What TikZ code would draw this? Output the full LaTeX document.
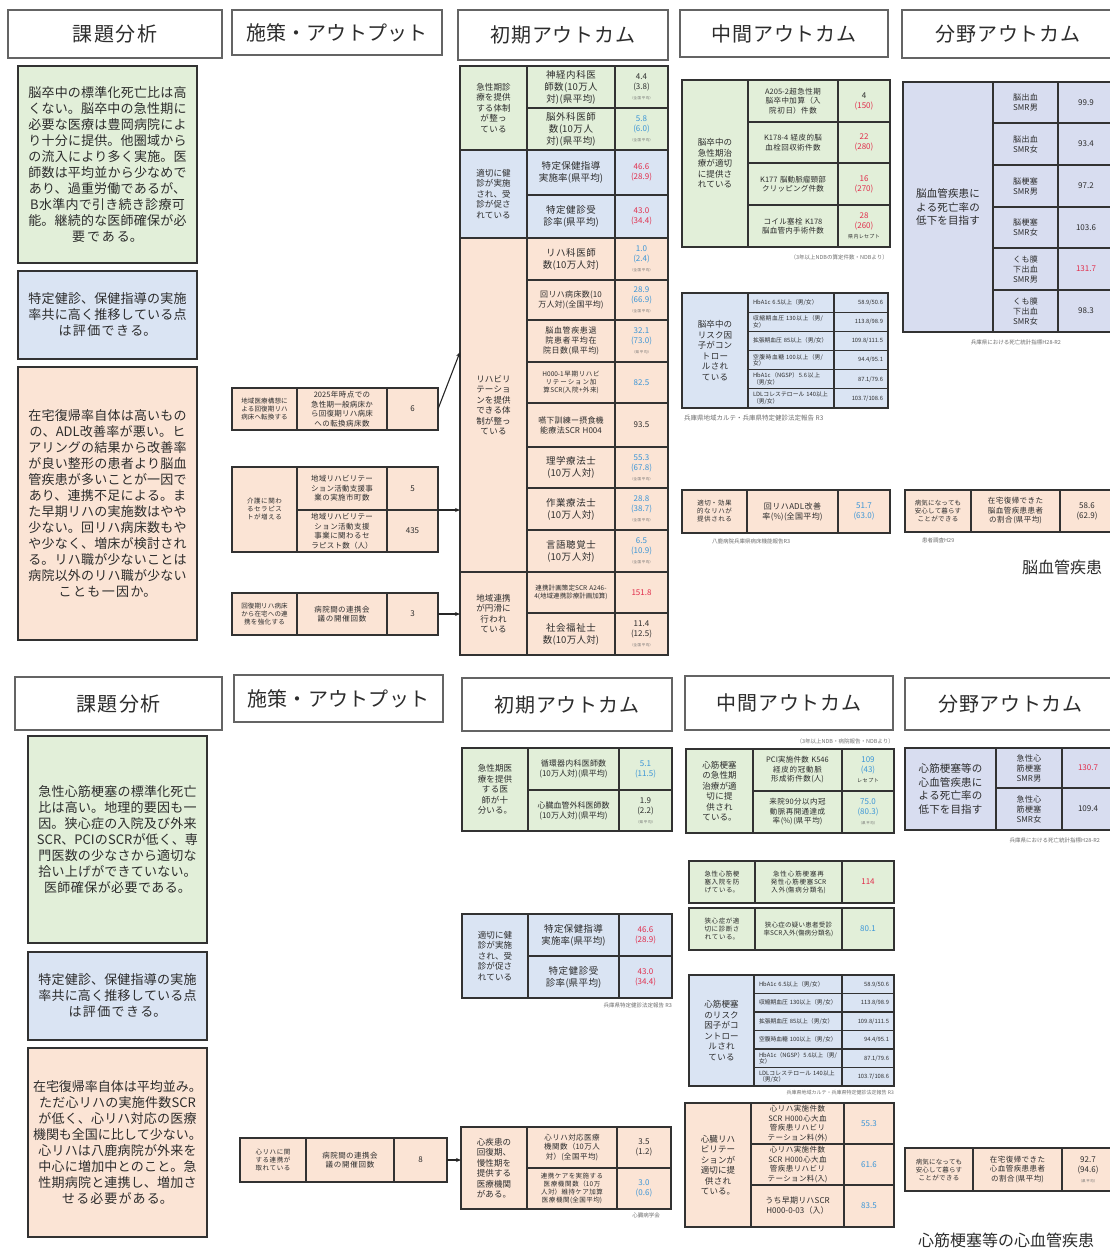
\documentclass[tikz,border=0pt]{standalone}
\usepackage{fontspec}
\setmainfont{Noto Sans CJK JP}
\usetikzlibrary{arrows.meta}
\XeTeXlinebreaklocale "ja"
\XeTeXlinebreakskip=0pt plus 1pt
\definecolor{txt}{RGB}{45,45,45}
\definecolor{edge}{RGB}{50,50,50}
\definecolor{hedge}{RGB}{100,100,100}
\definecolor{gfill}{RGB}{226,239,217}
\definecolor{bfill}{RGB}{218,228,243}
\definecolor{pfill}{RGB}{216,221,240}
\definecolor{ofill}{RGB}{251,228,213}
\definecolor{vred}{RGB}{225,45,75}
\definecolor{vblue}{RGB}{60,150,215}
\definecolor{srcgray}{RGB}{110,110,110}
\newcommand{\mkcell}[7]{%
  \pgfmathsetmacro{\cbw}{#4-#2}%
  \pgfmathsetmacro{\cbh}{#5-#3}%
  \pgfmathsetmacro{\cbx}{(#2+#4)/2}%
  \pgfmathsetmacro{\cby}{(#3+#5)/2}%
  \pgfmathsetmacro{\cbt}{#4-#2-10}%
  \node[cell, minimum width=\cbw pt, minimum height=\cbh pt, text width=\cbt pt, #6] (#1) at (\cbx,\cby) {#7};}
\newcommand{\subnote}[1]{\\{\fontsize{3.5}{4}\selectfont\color{srcgray}#1}}
\tikzset{
 cell/.style={draw=edge, line width=1.3pt, inner sep=1pt, outer sep=0pt, align=center, text=txt, font=\fontsize{9}{11}\selectfont},
 hdr/.style={draw=hedge, line width=1.3pt, fill=white, inner sep=0pt, text=txt, font=\fontsize{20}{24}\selectfont},
 para/.style={font=\fontsize{13}{16}\selectfont},
 gc/.style={fill=gfill}, bc/.style={fill=bfill}, pc/.style={fill=pfill}, oc/.style={fill=ofill},
 lab/.style={font=\fontsize{8.5}{10.5}\selectfont, text width=40pt},
 mid/.style={font=\fontsize{9.5}{12}\selectfont, text width=70pt},
 mids/.style={font=\fontsize{8}{10}\selectfont, text width=72pt},
 sm/.style={font=\fontsize{7.5}{9.5}\selectfont, text width=70pt},
 xsm/.style={font=\fontsize{6.5}{8}\selectfont, text width=74pt},
 xsl/.style={font=\fontsize{6.5}{8}\selectfont, text width=50pt},
 val/.style={font=\fontsize{8}{10}\selectfont},
 flab/.style={font=\fontsize{10.5}{13.5}\selectfont, text width=68pt},
 fr/.style={font=\fontsize{8}{10}\selectfont, text width=38pt},
 rk/.style={font=\fontsize{5.8}{6.6}\selectfont, align=left},
 rkv/.style={font=\fontsize{5.8}{6.8}\selectfont, align=right},
 src/.style={font=\fontsize{5.5}{6.5}\selectfont, text=srcgray, inner sep=0pt},
 arr/.style={-{Stealth[length=5pt,width=4pt]}, line width=1.1pt, draw=black!85},
 ttl/.style={font=\fontsize{16}{19}\selectfont, text=txt, inner sep=0pt, anchor=west},
}
\begin{document}
\begin{tikzpicture}[x=1pt,y=-1pt]
\fill[white] (0,0) rectangle (1110,1254);
\useasboundingbox (0,0) rectangle (1110,1254);

% ================= TOP : 脳血管疾患 =================
\mkcell{h1}{8}{10}{222}{58}{hdr}{課題分析}
\mkcell{h2}{232}{10}{442}{55}{hdr}{施策・アウトプット}
\mkcell{h3}{458}{10}{668}{60}{hdr}{初期アウトカム}
\mkcell{h4}{680}{10}{888}{57}{hdr}{中間アウトカム}
\mkcell{h5}{902}{10}{1114}{58}{hdr}{分野アウトカム}

\mkcell{p1}{18}{66}{197}{263}{gc,para}{脳卒中の標準化死亡比は高\\くない。脳卒中の急性期に\\必要な医療は豊岡病院によ\\り十分に提供。他圏域から\\の流入により多く実施。医\\師数は平均並から少なめで\\あり、過重労働であるが、\\B水準内で引き続き診療可\\能。継続的な医師確保が必\\要である。}
\mkcell{p2}{18}{271}{197}{359}{bc,para}{特定健診、保健指導の実施\\率共に高く推移している点\\は評価できる。}
\mkcell{p3}{18}{367}{197}{640}{oc,para}{在宅復帰率自体は高いもの\\の、ADL改善率が悪い。ヒ\\アリングの結果から改善率\\が良い整形の患者より脳血\\管疾患が多いことが一因で\\あり、連携不足による。ま\\た早期リハの実施数はやや\\少ない。回リハ病床数もや\\や少なく、増床が検討され\\る。リハ職が少ないことは\\病院以外のリハ職が少ない\\ことも一因か。}

% outputs
\mkcell{o1a}{232}{388}{297}{430}{oc,xsl}{地域医療構想による回復期リハ病床へ転換する}
\mkcell{o1b}{297}{388}{387}{430}{oc,sm}{2025年時点での急性期一般病床から回復期リハ病床への転換病床数}
\mkcell{o1c}{387}{388}{438}{430}{oc,val}{6}
\mkcell{o2a}{232}{467}{297}{552}{oc,xsl}{介護に関わるセラピストが増える}
\mkcell{o2b}{297}{467}{387}{510}{oc,sm}{地域リハビリテーション活動支援事業の実施市町数}
\mkcell{o2c}{387}{467}{438}{510}{oc,val}{5}
\mkcell{o2d}{297}{510}{387}{552}{oc,sm}{地域リハビリテーション活動支援事業に関わるセラピスト数（人）}
\mkcell{o2e}{387}{510}{438}{552}{oc,val}{435}
\mkcell{o3a}{232}{593}{297}{635}{oc,xsl}{回復期リハ病床から在宅への連携を強化する}
\mkcell{o3b}{297}{593}{387}{635}{oc,sm}{病院間の連携会議の開催回数}
\mkcell{o3c}{387}{593}{438}{635}{oc,val}{3}

% initial outcomes
\mkcell{ia}{460}{66}{527}{150}{gc,lab}{急性期診療を提供する体制が整っている}
\mkcell{ia1}{527}{66}{615}{108}{gc,mid}{神経内科医師数(10万人対)(県平均)}
\mkcell{ia1v}{615}{66}{668}{108}{gc,val}{4.4\\(3.8)\subnote{（全国平均）}}
\mkcell{ia2}{527}{108}{615}{150}{gc,mid}{脳外科医師数(10万人対)(県平均)}
\mkcell{ia2v}{615}{108}{668}{150}{gc,val,text=vblue}{5.8\\(6.0)\subnote{（全国平均）}}
\mkcell{ib}{460}{150}{527}{238}{bc,lab}{適切に健診が実施され、受診が促されている}
\mkcell{ib1}{527}{150}{615}{195}{bc,mid}{特定保健指導実施率(県平均)}
\mkcell{ib1v}{615}{150}{668}{195}{bc,val,text=vred}{46.6\\(28.9)}
\mkcell{ib2}{527}{195}{615}{238}{bc,mid}{特定健診受診率(県平均)}
\mkcell{ib2v}{615}{195}{668}{238}{bc,val,text=vred}{43.0\\(34.4)}
\mkcell{ic}{460}{238}{527}{572}{oc,lab}{リハビリテーションを提供できる体制が整っている}
\mkcell{ic1}{527}{238}{615}{280}{oc,mid}{リハ科医師数(10万人対)}
\mkcell{ic1v}{615}{238}{668}{280}{oc,val,text=vblue}{1.0\\(2.4)\subnote{（全国平均）}}
\mkcell{ic2}{527}{280}{615}{320}{oc,mids}{回リハ病床数(10万人対)(全国平均)}
\mkcell{ic2v}{615}{280}{668}{320}{oc,val,text=vblue}{28.9\\(66.9)\subnote{（全国平均）}}
\mkcell{ic3}{527}{320}{615}{362}{oc,mids}{脳血管疾患退院患者平均在院日数(県平均)}
\mkcell{ic3v}{615}{320}{668}{362}{oc,val,text=vblue}{32.1\\(73.0)\subnote{（県平均）}}
\mkcell{ic4}{527}{362}{615}{403}{oc,xsm}{H000-1早期リハビリテーション加算SCR(入院+外来)}
\mkcell{ic4v}{615}{362}{668}{403}{oc,val,text=vblue}{82.5}
\mkcell{ic5}{527}{403}{615}{447}{oc,mids}{嚥下訓練ー摂食機能療法SCR H004}
\mkcell{ic5v}{615}{403}{668}{447}{oc,val}{93.5}
\mkcell{ic6}{527}{447}{615}{488}{oc,mid}{理学療法士(10万人対)}
\mkcell{ic6v}{615}{447}{668}{488}{oc,val,text=vblue}{55.3\\(67.8)\subnote{（全国平均）}}
\mkcell{ic7}{527}{488}{615}{530}{oc,mid}{作業療法士(10万人対)}
\mkcell{ic7v}{615}{488}{668}{530}{oc,val,text=vblue}{28.8\\(38.7)\subnote{（全国平均）}}
\mkcell{ic8}{527}{530}{615}{572}{oc,mid}{言語聴覚士(10万人対)}
\mkcell{ic8v}{615}{530}{668}{572}{oc,val,text=vblue}{6.5\\(10.9)\subnote{（全国平均）}}
\mkcell{id}{460}{572}{527}{655}{oc,lab}{地域連携が円滑に行われている}
\mkcell{id1}{527}{572}{615}{613}{oc,xsm}{連携計画策定SCR A246-4(地域連携診療計画加算)}
\mkcell{id1v}{615}{572}{668}{613}{oc,val,text=vred}{151.8}
\mkcell{id2}{527}{613}{615}{655}{oc,mid}{社会福祉士数(10万人対)}
\mkcell{id2v}{615}{613}{668}{655}{oc,val}{11.4\\(12.5)\subnote{（全国平均）}}

\coordinate (a1tip) at (460,352);
\draw[arr] (o1c.east) -- (a1tip);
\draw[arr] (o2c.south east) -- (ic.west |- o2c.south east);
\draw[arr] (o3c.east) -- (id.west |- o3c.east);

% intermediate outcomes
\mkcell{ma}{682}{80}{748}{247}{gc,lab}{脳卒中の急性期治療が適切に提供されている}
\mkcell{ma1}{748}{80}{838}{122}{gc,sm}{A205-2超急性期脳卒中加算（入院初日）件数}
\mkcell{ma1v}{838}{80}{890}{122}{gc,val}{4\\\textcolor{vred}{(150)}}
\mkcell{ma2}{748}{122}{838}{163}{gc,sm}{K178-4 経皮的脳血栓回収術件数}
\mkcell{ma2v}{838}{122}{890}{163}{gc,val,text=vred}{22\\(280)}
\mkcell{ma3}{748}{163}{838}{205}{gc,sm}{K177 脳動脈瘤頸部クリッピング件数}
\mkcell{ma3v}{838}{163}{890}{205}{gc,val,text=vred}{16\\(270)}
\mkcell{ma4}{748}{205}{838}{247}{gc,sm}{コイル塞栓 K178 脳血管内手術件数}
\mkcell{ma4v}{838}{205}{890}{247}{gc,val,text=vred}{28\\(260)\\{\fontsize{5}{6}\selectfont\color{txt}県内レセプト}}
\node[src, anchor=east] (sma) at (888,257) {（3年以上NDBの算定件数・NDBより）};

\mkcell{mb}{682}{293}{748}{408}{bc,lab}{脳卒中のリスク因子がコントロールされている}
\mkcell{mb1}{748}{293}{834}{312.2}{bc,rk}{HbA1c 6.5以上（男/女）}
\mkcell{mb1v}{834}{293}{888}{312.2}{bc,rkv}{58.9/50.6}
\mkcell{mb2}{748}{312.2}{834}{331.3}{bc,rk}{収縮期血圧 130以上（男/女）}
\mkcell{mb2v}{834}{312.2}{888}{331.3}{bc,rkv}{113.8/98.9}
\mkcell{mb3}{748}{331.3}{834}{350.5}{bc,rk}{拡張期血圧 85以上（男/女）}
\mkcell{mb3v}{834}{331.3}{888}{350.5}{bc,rkv}{109.8/111.5}
\mkcell{mb4}{748}{350.5}{834}{369.7}{bc,rk}{空腹時血糖 100以上（男/女）}
\mkcell{mb4v}{834}{350.5}{888}{369.7}{bc,rkv}{94.4/95.1}
\mkcell{mb5}{748}{369.7}{834}{388.8}{bc,rk}{HbA1c（NGSP）5.6以上（男/女）}
\mkcell{mb5v}{834}{369.7}{888}{388.8}{bc,rkv}{87.1/79.6}
\mkcell{mb6}{748}{388.8}{834}{408}{bc,rk}{LDLコレステロール 140以上（男/女）}
\mkcell{mb6v}{834}{388.8}{888}{408}{bc,rkv}{103.7/108.6}
\node[src, anchor=west, font=\fontsize{6.5}{8}\selectfont] (smb) at (684,418) {兵庫県地域カルテ・兵庫県特定健診法定報告 R3};

\mkcell{mc}{682}{490}{747}{533}{oc,xsl}{適切・効果的なリハが提供される}
\mkcell{mc1}{747}{490}{838}{533}{oc,mids}{回リハADL改善率(\%)(全国平均)}
\mkcell{mc1v}{838}{490}{890}{533}{oc,val,text=vblue}{51.7\\(63.0)}
\node[src, anchor=west] (smc) at (712,541) {八鹿病院兵庫県病床機能報告R3};

% field outcomes
\mkcell{fa}{903}{82}{993}{332}{pc,flab}{脳血管疾患による死亡率の低下を目指す}
\mkcell{fa1}{993}{82}{1058}{123}{pc,fr}{脳出血SMR男}
\mkcell{fa1v}{1058}{82}{1114}{123}{pc,val}{99.9}
\mkcell{fa2}{993}{123}{1058}{165}{pc,fr}{脳出血SMR女}
\mkcell{fa2v}{1058}{123}{1114}{165}{pc,val}{93.4}
\mkcell{fa3}{993}{165}{1058}{207}{pc,fr}{脳梗塞SMR男}
\mkcell{fa3v}{1058}{165}{1114}{207}{pc,val}{97.2}
\mkcell{fa4}{993}{207}{1058}{248}{pc,fr}{脳梗塞SMR女}
\mkcell{fa4v}{1058}{207}{1114}{248}{pc,val}{103.6}
\mkcell{fa5}{993}{248}{1058}{290}{pc,fr}{くも膜下出血SMR男}
\mkcell{fa5v}{1058}{248}{1114}{290}{pc,val,text=vred}{131.7}
\mkcell{fa6}{993}{290}{1058}{332}{pc,fr}{くも膜下出血SMR女}
\mkcell{fa6v}{1058}{290}{1114}{332}{pc,val}{98.3}
\node[src] (sfa) at (1016,342) {兵庫県における死亡統計指標H28-R2};

\mkcell{fb}{905}{490}{971}{532}{oc,xsl}{病気になっても安心して暮らすことができる}
\mkcell{fb1}{971}{490}{1060}{532}{oc,sm}{在宅復帰できた脳血管疾患患者の割合(県平均)}
\mkcell{fb1v}{1060}{490}{1114}{532}{oc,val}{58.6\\(62.9)}
\node[src, anchor=west] (sfb) at (922,540) {患者調査H29};
\node[ttl] (t1) at (1022,567) {脳血管疾患};

% ================= BOTTOM : 心筋梗塞等 =================
\mkcell{k1}{15}{677}{222}{730}{hdr}{課題分析}
\mkcell{k2}{234}{675}{443}{722}{hdr}{施策・アウトプット}
\mkcell{k3}{462}{678}{672}{731}{hdr}{初期アウトカム}
\mkcell{k4}{685}{676}{893}{730}{hdr}{中間アウトカム}
\mkcell{k5}{905}{678}{1116}{730}{hdr}{分野アウトカム}

\mkcell{r1}{28}{736}{207}{943}{gc,para}{急性心筋梗塞の標準化死亡\\比は高い。地理的要因も一\\因。狭心症の入院及び外来\\SCR、PCIのSCRが低く、専\\門医数の少なさから適切な\\拾い上げができていない。\\医師確保が必要である。}
\mkcell{r2}{28}{952}{207}{1040}{bc,para}{特定健診、保健指導の実施\\率共に高く推移している点\\は評価できる。}
\mkcell{r3}{28}{1048}{207}{1237}{oc,para}{在宅復帰率自体は平均並み。\\ただ心リハの実施件数SCR\\が低く、心リハ対応の医療\\機関も全国に比して少ない。\\心リハは八鹿病院が外来を\\中心に増加中とのこと。急\\性期病院と連携し、増加さ\\せる必要がある。}

\mkcell{q1a}{240}{1138}{306}{1182}{oc,xsl}{心リハに関する連携が取れている}
\mkcell{q1b}{306}{1138}{394}{1182}{oc,sm}{病院間の連携会議の開催回数}
\mkcell{q1c}{394}{1138}{447}{1182}{oc,val}{8}

\mkcell{ja}{462}{748}{528}{831}{gc,lab}{急性期医療を提供する医師が十分いる。}
\mkcell{ja1}{528}{748}{619}{790}{gc,mids}{循環器内科医師数(10万人対)(県平均)}
\mkcell{ja1v}{619}{748}{672}{790}{gc,val,text=vblue}{5.1\\(11.5)}
\mkcell{ja2}{528}{790}{619}{831}{gc,mids}{心臓血管外科医師数(10万人対)(県平均)}
\mkcell{ja2v}{619}{790}{672}{831}{gc,val}{1.9\\(2.2)\subnote{（県平均）}}
\mkcell{jb}{462}{914}{528}{998}{bc,lab}{適切に健診が実施され、受診が促されている}
\mkcell{jb1}{528}{914}{619}{956}{bc,mid}{特定保健指導実施率(県平均)}
\mkcell{jb1v}{619}{914}{672}{956}{bc,val,text=vred}{46.6\\(28.9)}
\mkcell{jb2}{528}{956}{619}{998}{bc,mid}{特定健診受診率(県平均)}
\mkcell{jb2v}{619}{956}{672}{998}{bc,val,text=vred}{43.0\\(34.4)}
\node[src, anchor=east] (sjb) at (672,1005) {兵庫県特定健診法定報告 R3};
\mkcell{jc}{461}{1127}{527}{1209}{oc,lab}{心疾患の回復期、慢性期を提供する医療機関がある。}
\mkcell{jc1}{527}{1127}{617}{1168}{oc,sm}{心リハ対応医療機関数（10万人対）(全国平均)}
\mkcell{jc1v}{617}{1127}{671}{1168}{oc,val}{3.5\\(1.2)}
\mkcell{jc2}{527}{1168}{617}{1209}{oc,xsm}{連携ケアを実施する医療機関数（10万人対）維持ケア加算医療機関(全国平均)}
\mkcell{jc2v}{617}{1168}{671}{1209}{oc,val,text=vblue}{3.0\\(0.6)}
\node[src, anchor=east] (sjc) at (660,1215) {心臓病学会};

\draw[arr] (q1c.east) -- (jc.west |- q1c.east);

\node[src, anchor=east] (sna) at (894,741) {（3年以上NDB・病院報告・NDBより）};
\mkcell{na}{686}{749}{753}{833}{gc,lab}{心筋梗塞の急性期治療が適切に提供されている。}
\mkcell{na1}{753}{749}{842}{791}{gc,sm}{PCI実施件数 K546経皮的冠動脈形成術件数(人)}
\mkcell{na1v}{842}{749}{894}{791}{gc,val,text=vblue}{109\\(43)\\{\fontsize{5}{6}\selectfont\color{txt}レセプト}}
\mkcell{na2}{753}{791}{842}{833}{gc,sm}{来院90分以内冠動脈再開通達成率(\%)(県平均)}
\mkcell{na2v}{842}{791}{894}{833}{gc,val,text=vblue}{75.0\\(80.3)\subnote{（県平均）}}
\mkcell{nb}{689}{861}{755}{903}{gc,xsl}{急性心筋梗塞入院を防げている。}
\mkcell{nb1}{755}{861}{842}{903}{gc,xsm}{急性心筋梗塞再発性心筋梗塞SCR入外(傷病分類名)}
\mkcell{nb1v}{842}{861}{894}{903}{gc,val,text=vred}{114}
\mkcell{nc}{689}{908}{755}{950}{gc,xsl}{狭心症が適切に診断されている。}
\mkcell{nc1}{755}{908}{842}{950}{gc,xsm}{狭心症の疑い患者受診率SCR入外(傷病分類名)}
\mkcell{nc1v}{842}{908}{894}{950}{gc,val,text=vblue}{80.1}

\mkcell{nd}{689}{975}{754}{1086}{bc,lab}{心筋梗塞のリスク因子がコントロールされている}
\mkcell{nd1}{754}{975}{842}{993.5}{bc,rk}{HbA1c 6.5以上（男/女）}
\mkcell{nd1v}{842}{975}{894}{993.5}{bc,rkv}{58.9/50.6}
\mkcell{nd2}{754}{993.5}{842}{1012}{bc,rk}{収縮期血圧 130以上（男/女）}
\mkcell{nd2v}{842}{993.5}{894}{1012}{bc,rkv}{113.8/98.9}
\mkcell{nd3}{754}{1012}{842}{1030.5}{bc,rk}{拡張期血圧 85以上（男/女）}
\mkcell{nd3v}{842}{1012}{894}{1030.5}{bc,rkv}{109.8/111.5}
\mkcell{nd4}{754}{1030.5}{842}{1049}{bc,rk}{空腹時血糖 100以上（男/女）}
\mkcell{nd4v}{842}{1030.5}{894}{1049}{bc,rkv}{94.4/95.1}
\mkcell{nd5}{754}{1049}{842}{1067.5}{bc,rk}{HbA1c（NGSP）5.6以上（男/女）}
\mkcell{nd5v}{842}{1049}{894}{1067.5}{bc,rkv}{87.1/79.6}
\mkcell{nd6}{754}{1067.5}{842}{1086}{bc,rk}{LDLコレステロール 140以上（男/女）}
\mkcell{nd6v}{842}{1067.5}{894}{1086}{bc,rkv}{103.7/108.6}
\node[src, anchor=east, font=\fontsize{5}{6}\selectfont] (snd) at (894,1093) {兵庫県地域カルテ・兵庫県特定健診法定報告 R3};

\mkcell{ne}{685}{1103}{751}{1227}{oc,lab}{心臓リハビリテーションが適切に提供されている。}
\mkcell{ne1}{751}{1103}{844}{1144}{oc,sm}{心リハ実施件数SCR H000心大血管疾患リハビリテーション料(外)}
\mkcell{ne1v}{844}{1103}{894}{1144}{oc,val,text=vblue}{55.3}
\mkcell{ne2}{751}{1144}{844}{1185}{oc,sm}{心リハ実施件数SCR H000心大血管疾患リハビリテーション料(入)}
\mkcell{ne2v}{844}{1144}{894}{1185}{oc,val,text=vblue}{61.6}
\mkcell{ne3}{751}{1185}{844}{1227}{oc,mids}{うち早期リハSCR H000-0-03（入）}
\mkcell{ne3v}{844}{1185}{894}{1227}{oc,val,text=vblue}{83.5}

\mkcell{ga}{905}{748}{996}{830}{pc,flab}{心筋梗塞等の心血管疾患による死亡率の低下を目指す}
\mkcell{ga1}{996}{748}{1062}{788}{pc,fr}{急性心筋梗塞SMR男}
\mkcell{ga1v}{1062}{748}{1114}{788}{pc,val,text=vred}{130.7}
\mkcell{ga2}{996}{788}{1062}{830}{pc,fr}{急性心筋梗塞SMR女}
\mkcell{ga2v}{1062}{788}{1114}{830}{pc,val}{109.4}
\node[src, anchor=east] (sga) at (1100,840) {兵庫県における死亡統計指標H28-R2};
\mkcell{gb}{905}{1148}{973}{1191}{oc,xsl}{病気になっても安心して暮らすことができる}
\mkcell{gb1}{973}{1148}{1062}{1191}{oc,sm}{在宅復帰できた心血管疾患患者の割合(県平均)}
\mkcell{gb1v}{1062}{1148}{1114}{1191}{oc,val}{92.7\\(94.6)\subnote{（県平均）}}
\node[ttl] (t2) at (918,1240) {心筋梗塞等の心血管疾患};
\end{tikzpicture}
\end{document}
